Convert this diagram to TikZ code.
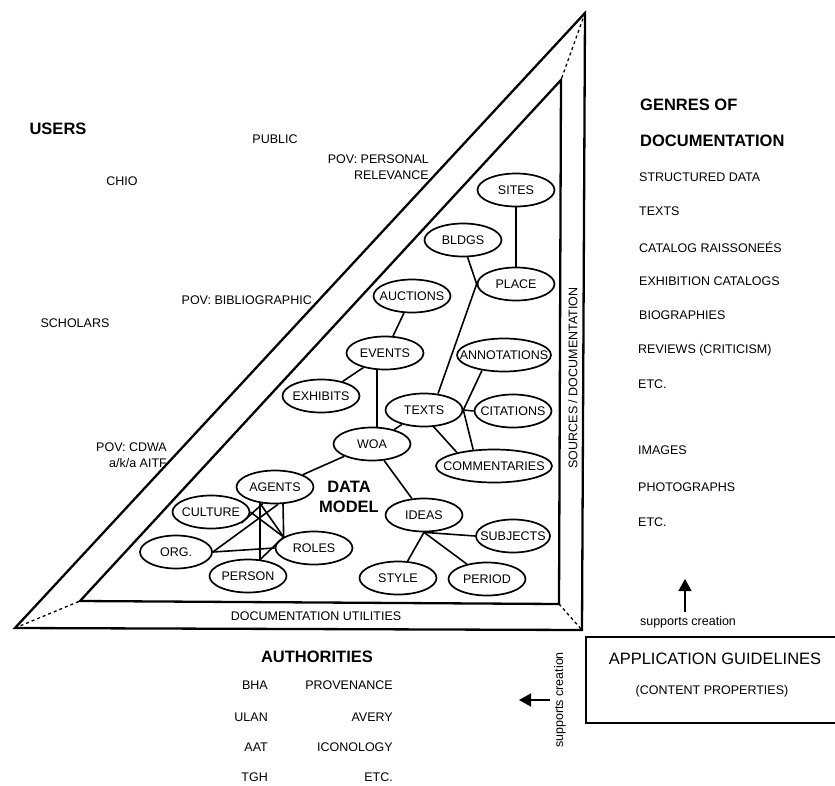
\documentclass[tikz,border=0pt]{standalone}
\usepackage{fontspec}
\setmainfont{Liberation Sans}
\usetikzlibrary{shapes.geometric,arrows.meta,calc}
\newcommand{\zw}[1]{\makebox[0pt]{#1}}
\begin{document}
\begin{tikzpicture}[x=1pt,y=-1pt,
  ent/.style={draw,ellipse,line width=1.7pt,minimum width=77pt,minimum height=33pt,inner sep=0pt,font=\fontsize{12.5}{14}\selectfont},
  lnk/.style={line width=1.6pt},
  tri/.style={line width=2.3pt,line join=miter},
  dsh/.style={line width=1.3pt,dash pattern=on 3pt off 3pt},
  lbl/.style={font=\fontsize{12.5}{16}\selectfont,inner sep=0pt},
  hd/.style={font=\bfseries\fontsize{16.5}{19}\selectfont,inner sep=0pt},
  arr/.style={line width=1.6pt,-{Triangle[length=12pt,width=13pt]}},
]
\useasboundingbox (0,0) rectangle (835,785);

% triangles
\coordinate (OA) at (15,628);
\coordinate (OB) at (585,13);
\coordinate (OC) at (582,630);
\coordinate (IA) at (80,601);
\coordinate (IB) at (561,80);
\coordinate (IC) at (559,604);
\draw[tri] (OA) -- (OB) -- (OC) -- cycle;
\draw[tri] (IA) -- (IB) -- (IC) -- cycle;
\draw[dsh] (OA) -- (IA);
\draw[dsh] (OB) -- (IB);
\draw[dsh] (IC) -- (OC);

\node[lbl,rotate=90] (src) at (573,378) {SOURCES / DOCUMENTATION};
\node[lbl] (util) at (316,616) {DOCUMENTATION UTILITIES};

% entities
\node[ent] (sites) at (516,190) {\zw{SITES}};
\node[ent] (bldgs) at (463,240) {\zw{BLDGS}};
\node[ent] (place) at (516,284) {\zw{PLACE}};
\node[ent] (auctions) at (412,296) {\zw{AUCTIONS}};
\node[ent] (events) at (385,353) {\zw{EVENTS}};
\node[ent,minimum width=94pt] (annot) at (504,355) {\zw{ANNOTATIONS}};
\node[ent] (exhibits) at (321,396) {\zw{EXHIBITS}};
\node[ent] (texts) at (424,410) {\zw{TEXTS}};
\node[ent] (citations) at (513,411) {\zw{CITATIONS}};
\node[ent] (woa) at (372,444) {\zw{WOA}};
\node[ent,minimum width=116pt] (comm) at (494,466) {\zw{COMMENTARIES}};
\node[ent] (agents) at (275,487) {\zw{AGENTS}};
\node[ent] (culture) at (211,512) {\zw{CULTURE}};
\node[ent] (ideas) at (424,515) {\zw{IDEAS}};
\node[ent,minimum width=74pt] (subjects) at (513,536) {\zw{SUBJECTS}};
\node[ent,minimum width=72pt] (org) at (176,552) {\zw{ORG.}};
\node[ent] (roles) at (314,548) {\zw{ROLES}};
\node[ent] (person) at (248,576) {\zw{PERSON}};
\node[ent] (style) at (398,578) {\zw{STYLE}};
\node[ent] (period) at (487,579) {\zw{PERIOD}};

\node[font=\bfseries\fontsize{16.5}{20}\selectfont,align=center,inner sep=0pt] (dm) at (349,497) {DATA\\MODEL};

% connectors
\draw[lnk] (sites) -- (place);
\draw[lnk] (bldgs.-75) -- (place.west);
\draw[lnk] (place.west) -- ($(texts.north)+(14,1)$);
\draw[lnk] (auctions) -- (events);
\draw[lnk] (events) -- (exhibits);
\draw[lnk] ($(events.south)+(-8,0)$) -- ($(woa.north)+(5,0)$);
\draw[lnk] (woa) -- (texts);
\draw[lnk] (texts.east) -- (annot.215);
\draw[lnk] (texts.east) -- (citations.west);
\draw[lnk] (texts.east) -- (comm.142);
\draw[lnk] (texts.-60) -- (comm.160);
\draw[lnk] (woa) -- (agents);
\draw[lnk] (woa) -- (ideas);
\draw[lnk] (ideas.south) -- (subjects.west);
\draw[lnk] (ideas.south) -- (style);
\draw[lnk] (ideas.south) -- (period);
% agents cluster
\draw[lnk] ($(agents.south)+(-15,-1)$) -- ($(person.north)+(12,1)$);
\draw[lnk] ($(agents.south)+(-15,-1)$) -- (roles.160);
\draw[lnk] ($(agents.south)+(-12,-1)$) -- (culture.-20);
\draw[lnk] (culture.east) -- (roles.160);
\draw[lnk] ($(agents.south)+(3,0)$) -- (org.east);
\draw[lnk] ($(agents.south)+(8,-1)$) -- (roles.160);
\draw[lnk] (org.east) -- (roles.west);
\draw[lnk] ($(person.north)+(12,1)$) -- (roles.160);

% users side
\node[hd] (users) at (58,129) {USERS};
\node[lbl] (public) at (275,139) {PUBLIC};
\node[lbl] (chio) at (122,181) {CHIO};
\node[lbl,align=right,anchor=east] (pov1) at (429,167) {POV: PERSONAL\\RELEVANCE};
\node[lbl,anchor=east] (pov2) at (312,300) {POV: BIBLIOGRAPHIC};
\node[lbl] (scholars) at (75,323) {SCHOLARS};
\node[lbl,align=right,anchor=east] (pov3) at (167,455) {POV: CDWA\\a/k/a AITF};

% genres
\node[hd,anchor=west] (genres) at (640,105) {GENRES OF};
\node[hd,anchor=west] (docu) at (640,141) {DOCUMENTATION};
\node[lbl,anchor=west] (g1) at (639,177) {STRUCTURED DATA};
\node[lbl,anchor=west] (g2) at (639,211) {TEXTS};
\node[lbl,anchor=west] (g3) at (639,247) {CATALOG RAISSONEÉS};
\node[lbl,anchor=west] (g4) at (639,281) {EXHIBITION CATALOGS};
\node[lbl,anchor=west] (g5) at (639,315) {BIOGRAPHIES};
\node[lbl,anchor=west] (g6) at (638,350) {REVIEWS (CRITICISM)};
\node[lbl,anchor=west] (g7) at (638,384) {ETC.};
\node[lbl,anchor=west] (g8) at (638,450) {IMAGES};
\node[lbl,anchor=west] (g9) at (638,487) {PHOTOGRAPHS};
\node[lbl,anchor=west] (g10) at (638,522) {ETC.};

\node[lbl] (sc1) at (688,622) {supports creation};
\coordinate (upH) at (685,579);
\draw[arr] ($(sc1.north)+(-3,-4)$) -- (upH);

% guidelines box
\coordinate (bx1) at (835,637);
\coordinate (bx2) at (586,637);
\coordinate (bx3) at (586,723);
\coordinate (bx4) at (835,723);
\draw[line width=1.8pt] (bx1) -- (bx2) -- (bx3) -- (bx4);
\node[font=\fontsize{16.5}{19}\selectfont,inner sep=0pt] (ag) at (715,659) {APPLICATION GUIDELINES};
\node[lbl] (cp) at (712,691) {(CONTENT PROPERTIES)};

\node[lbl,rotate=90] (sc2) at (560,700) {supports creation};
\coordinate (lH) at (519,700);
\draw[arr] ($(sc2.north)+(-4,0)$) -- (lH);

% authorities
\node[hd] (auth) at (317,657) {AUTHORITIES};
\node[lbl,anchor=east] (a1) at (268,685) {BHA};
\node[lbl,anchor=east] (a2) at (268,717) {ULAN};
\node[lbl,anchor=east] (a3) at (268,747) {AAT};
\node[lbl,anchor=east] (a4) at (268,777) {TGH};
\node[lbl,anchor=east] (b1) at (393,685) {PROVENANCE};
\node[lbl,anchor=east] (b2) at (393,717) {AVERY};
\node[lbl,anchor=east] (b3) at (393,747) {ICONOLOGY};
\node[lbl,anchor=east] (b4) at (393,777) {ETC.};
\end{tikzpicture}
\end{document}
